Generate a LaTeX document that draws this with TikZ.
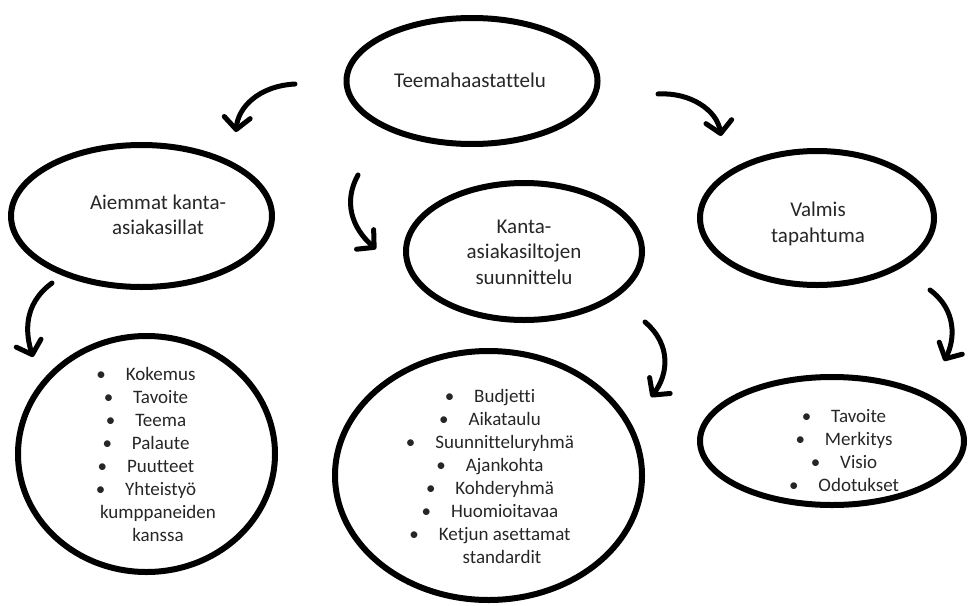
\documentclass[tikz,border=0pt]{standalone}
\usepackage{fontspec}
\setmainfont[Ligatures=NoCommon]{Carlito}
\usetikzlibrary{shapes.geometric,arrows.meta}
\tikzset{
  oval/.style={draw=black, line width=6pt, shape=ellipse, inner sep=0pt},
  head/.style={text=black!85, align=center, font=\fontsize{21}{25.5}\selectfont},
  list/.style={text=black!85, align=center, font=\fontsize{19}{23}\selectfont},
  flow/.style={draw=black, line width=5pt, line cap=round,
    -{Straight Barb[length=12pt,width=26pt,line cap=round,line join=round]}}
}
\newcommand{\itm}[1]{\textbullet\hspace{1.05em}#1}
\begin{document}
\begin{tikzpicture}[x=1pt,y=-1pt]
\useasboundingbox (0,0) rectangle (968,605);
% ovals
\node[oval, minimum width=251pt, minimum height=126pt] (top) at (472,81) {};
\node[oval, minimum width=261pt, minimum height=142pt] (aiem) at (141.5,216) {};
\node[oval, minimum width=236pt, minimum height=137pt] (kanta) at (524,251.5) {};
\node[oval, minimum width=234pt, minimum height=134pt] (valmis) at (817,218) {};
\node[oval, minimum width=257pt, minimum height=236pt] (lista) at (146.5,454) {};
\node[oval, minimum width=307pt, minimum height=249pt] (listb) at (488.5,475.5) {};
\node[oval, minimum width=264pt, minimum height=128pt] (listc) at (832,441) {};
% texts
\node[head] (toptext) at (470,80) {Teemahaastattelu};
\node[head] (aiemtext) at (158,215) {Aiemmat kanta-\\asiakasillat};
\node[head] (kantatext) at (524,252) {Kanta-\\asiakasiltojen\\suunnittelu};
\node[head] (valmistext) at (818,224) {Valmis\\tapahtuma};
\node[list] (listatext) at (146,454) {\itm{Kokemus}\\\itm{Tavoite}\\\itm{Teema}\\\itm{Palaute}\\\itm{Puutteet}\\\itm{Yhteistyö}\\\hspace*{24pt}kumppaneiden\\\hspace*{24pt}kanssa};
\node[list] (listbtext) at (490,476) {\itm{Budjetti}\\\itm{Aikataulu}\\\itm{Suunnitteluryhmä}\\\itm{Ajankohta}\\\itm{Kohderyhmä}\\\itm{Huomioitavaa}\\\itm{Ketjun asettamat}\\\hspace*{24pt}standardit};
\node[list] (listctext) at (844,451) {\itm{Tavoite}\\\itm{Merkitys}\\\itm{Visio}\\\itm{Odotukset}};
% arrow ends
\coordinate (a1) at (295,84);  \coordinate (a2) at (236,132);
\coordinate (b1) at (358,175); \coordinate (b2) at (376,249);
\coordinate (c1) at (658,94);  \coordinate (c2) at (721,136);
\coordinate (d1) at (52,283);  \coordinate (d2) at (33,357);
\coordinate (e1) at (645,322); \coordinate (e2) at (651,397);
\coordinate (f1) at (930,290); \coordinate (f2) at (944,361);
% arrows
\draw[flow] (a1) .. controls (258,86) and (238,108) .. (a2);
\draw[flow] (b1) .. controls (343,202) and (352,228) .. (b2);
\draw[flow] (c1) .. controls (690,92) and (717,110) .. (c2);
\draw[flow] (d1) .. controls (22,305) and (26,335) .. (d2);
\draw[flow] (e1) .. controls (672,345) and (668,375) .. (e2);
\draw[flow] (f1) .. controls (957,310) and (955,340) .. (f2);
\end{tikzpicture}
\end{document}
